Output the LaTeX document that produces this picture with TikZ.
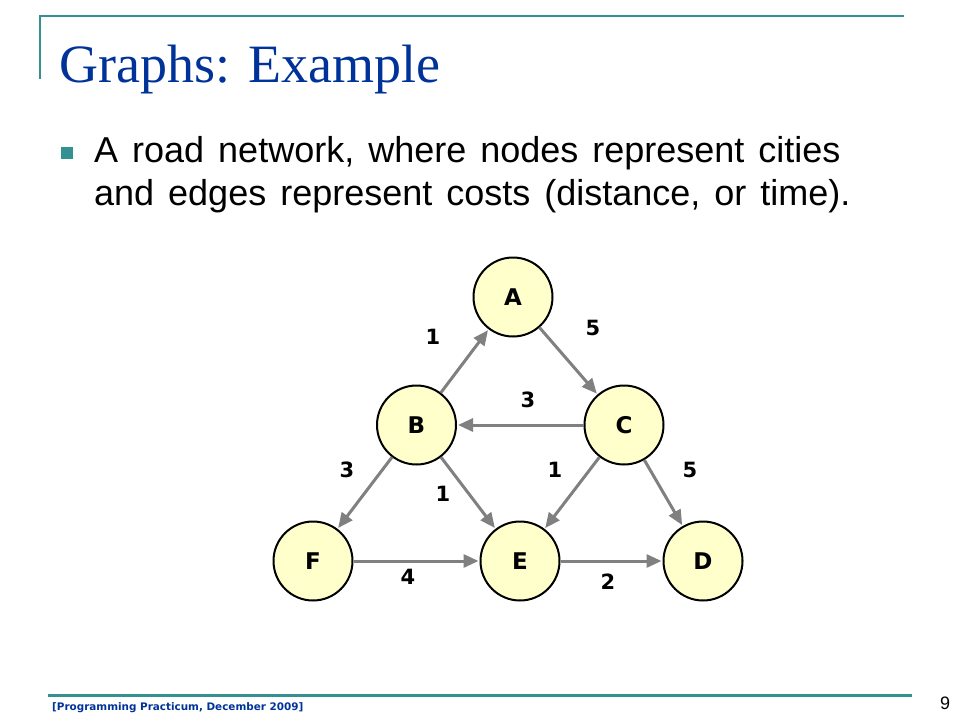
\documentclass[tikz,border=0pt]{standalone}
\usepackage{fontspec}
\setmainfont{Liberation Sans}
\newfontfamily\titlefont{Liberation Serif}
\newfontfamily\vfont{DejaVu Sans}
\usetikzlibrary{arrows.meta}
\definecolor{teal1}{RGB}{51,145,145}
\definecolor{titleblue}{RGB}{0,51,153}
\definecolor{nodefill}{RGB}{255,255,204}
\definecolor{edgegray}{RGB}{128,128,128}
\newcommand\mywidesp{\spaceskip=14pt\relax}
\tikzset{
  city/.style={circle, draw=black, line width=2pt, fill=nodefill, minimum size=79pt, inner sep=0pt,
    font=\vfont\bfseries\fontsize{23}{23}\selectfont},
  road/.style={draw=edgegray, line width=3pt, -{Triangle[length=15pt,width=13pt]}, shorten >=1pt},
  wlabel/.style={font=\vfont\bfseries\fontsize{21}{21}\selectfont, inner sep=0pt},
  rule/.style={draw=teal1, line width=2.5pt},
  bodytext/.style={anchor=base west, inner sep=0pt, font=\fontsize{36}{36}\selectfont},
}
\begin{document}
\begin{tikzpicture}[x=1pt,y=-1pt]
\useasboundingbox (0,0) rectangle (960,720);
\fill[white] (0,0) rectangle (960,720);
% frame lines
\draw[rule] (40,79) -- (40,16) -- (904,16);
\draw[rule] (48,695.7) -- (912,695.7);
% title
\node[anchor=base west, inner sep=0pt, text=titleblue, font=\titlefont\fontsize{54}{54}\selectfont] (title) at (59,82) {Graphs: Example};
% bullet
\fill[teal1] (61,147) rectangle (73,159);
\node[bodytext] (bul1) at (94,162) {\mywidesp A road network, where nodes represent cities};
\node[bodytext] (bul2) at (94,205) {\mywidesp and edges represent costs (distance, or time).};
% nodes
\node[city] (A) at (513,297) {A};
\node[city] (B) at (416.5,425) {B};
\node[city] (C) at (624,425) {C};
\node[city] (F) at (313,561) {F};
\node[city] (E) at (520,561) {E};
\node[city] (D) at (703,561) {D};
% edges
\draw[road] (B) -- (A);
\draw[road] (A) -- (C);
\draw[road] (C) -- (B);
\draw[road] (B) -- (F);
\draw[road] (B) -- (E);
\draw[road] (C) -- (E);
\draw[road] (C) -- (D);
\draw[road] (F) -- (E);
\draw[road] (E) -- (D);
% weights
\node[wlabel] (w1) at (433,337) {1};
\node[wlabel] (w2) at (593,328) {5};
\node[wlabel] (w3) at (528,400) {3};
\node[wlabel] (w4) at (347,470) {3};
\node[wlabel] (w5) at (443,494) {1};
\node[wlabel] (w6) at (555,470) {1};
\node[wlabel] (w7) at (690,470) {5};
\node[wlabel] (w8) at (408,577) {4};
\node[wlabel] (w9) at (608,582) {2};
% footer
\node[anchor=base west, inner sep=0pt, text=titleblue, font=\vfont\bfseries\fontsize{10.4}{10.4}\selectfont] (foot) at (52,710) {[Programming Practicum, December 2009]};
\node[anchor=base west, inner sep=0pt, font=\fontsize{18}{18}\selectfont] (pg) at (940,709) {9};
\end{tikzpicture}
\end{document}
